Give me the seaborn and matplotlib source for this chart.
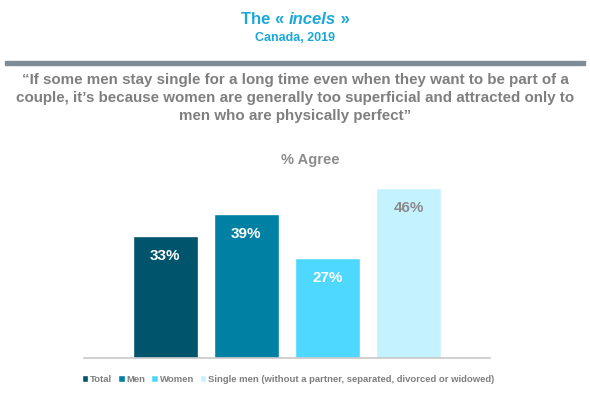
import matplotlib
matplotlib.use("Agg")
import matplotlib.pyplot as plt
import seaborn as sns
import pandas as pd
from matplotlib.patches import Rectangle

categories = ["Total", "Men", "Women", "Single men (without a partner, separated, divorced or widowed)"]
values = [33, 39, 27, 46]
labels = ["33%", "39%", "27%", "46%"]
colors = ["#00546B", "#0081A3", "#4FD8FF", "#C5F2FF"]
label_colors = ["white", "white", "white", "#8C8C8C"]

sns.set_theme(style="white")
plt.rcParams['font.family'] = ['Liberation Sans', 'DejaVu Sans']

df = pd.DataFrame({"cat": categories, "val": values})

fig = plt.figure(figsize=(5.9, 3.95), dpi=100)
W, H = 590, 395
ax = fig.add_axes([84 / W, 1 - 358 / H, (490 - 84) / W, (358 - 170) / H])

sns.barplot(data=df, x="cat", y="val", hue="cat", palette=colors, order=categories,
            hue_order=categories, dodge=False, width=0.8, ax=ax, legend=True,
            saturation=1)
ax.set_xlim(-1, 4)
ax.set_ylim(0, (358 - 170) / ((358 - 188) / 46))
for s in ["top", "right", "left"]:
    ax.spines[s].set_visible(False)
ax.spines["bottom"].set_color("#C8C8C8")
ax.spines["bottom"].set_linewidth(1.2)
ax.set_xticks([])
ax.set_yticks([])
ax.set_xlabel("")
ax.set_ylabel("")

for i, (v, lab, c) in enumerate(zip(values, labels, label_colors)):
    ax.text(i, v - 3.5, lab, ha="center", va="top", color=c, fontsize=11,
            fontweight="bold")

handles, hl = ax.get_legend_handles_labels()
leg = ax.legend(handles, hl, loc="center", bbox_to_anchor=(288 / W, 1 - 379 / H),
                bbox_transform=fig.transFigure, ncol=4, frameon=False,
                handlelength=0.7, handleheight=0.7, handletextpad=0.2,
                columnspacing=0.6, fontsize=6.8)
for t in leg.get_texts():
    t.set_color("#7F7F7F")
    t.set_fontweight("bold")

# Title composed of pieces
tc = "#1BA8D8"
ty = 1 - 20 / H
parts = [("The « ", "normal"), ("incels", "italic"), (" »", "normal")]
fig.canvas.draw()
r = fig.canvas.get_renderer()
objs = []
for s, st in parts:
    t = fig.text(0, ty, s, ha="left", va="center", color=tc, fontsize=12,
                 fontweight="bold", fontstyle=st)
    objs.append(t)
widths = [o.get_window_extent(r).width for o in objs]
total = sum(widths)
x = W / 2 - total / 2
for o, w in zip(objs, widths):
    o.set_x(x / W)
    x += w

fig.text(0.5, 1 - 38 / H, "Canada, 2019", ha="center", va="center",
         color=tc, fontsize=9, fontweight="bold")

fig.patches.append(Rectangle((5 / W, 1 - 65 / H), 580 / W, 4 / H,
                             transform=fig.transFigure, color="#7F8C95", zorder=1))

quote = ("\u201cIf some men stay single for a long time even when they want to be part of a\n"
         "couple, it\u2019s because women are generally too superficial and attracted only to\n"
         "men who are physically perfect\u201d")
fig.text(0.5, 1 - 98 / H, quote, ha="center", va="center", color="#7F7F7F",
         fontsize=10.9, fontweight="bold", linespacing=1.35)

fig.text(310 / W, 1 - 160 / H, "% Agree", ha="center", va="center", color="#8C8C8C",
         fontsize=10.5, fontweight="bold")

fig.savefig("out.png", dpi=100)
